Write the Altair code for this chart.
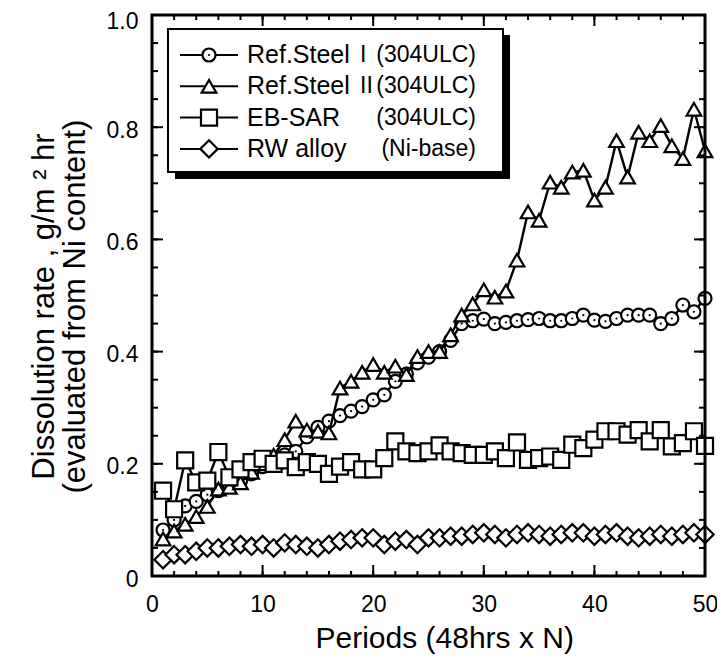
import altair as alt
import pandas as pd

# ---------------- data ----------------
periods = list(range(1, 51))

ref_steel_1 = [0.082, 0.100, 0.125, 0.133, 0.145, 0.152, 0.160, 0.170, 0.182, 0.195,
               0.205, 0.216, 0.222, 0.248, 0.265, 0.276, 0.286, 0.294, 0.302, 0.314,
               0.323, 0.347, 0.360, 0.380, 0.390, 0.400, 0.420, 0.450, 0.455, 0.458,
               0.450, 0.452, 0.455, 0.457, 0.459, 0.455, 0.455, 0.459, 0.465, 0.456,
               0.454, 0.459, 0.465, 0.465, 0.465, 0.450, 0.459, 0.483, 0.471, 0.495]

ref_steel_2 = [0.066, 0.080, 0.092, 0.106, 0.124, 0.155, 0.158, 0.166, 0.185, 0.200,
               0.215, 0.243, 0.276, 0.260, 0.258, 0.255, 0.335, 0.347, 0.363, 0.377,
               0.363, 0.374, 0.359, 0.391, 0.400, 0.400, 0.430, 0.465, 0.485, 0.510,
               0.497, 0.508, 0.563, 0.649, 0.634, 0.702, 0.693, 0.720, 0.723, 0.670,
               0.693, 0.776, 0.711, 0.791, 0.776, 0.803, 0.767, 0.744, 0.832, 0.758]

eb_sar = [0.152, 0.119, 0.206, 0.167, 0.170, 0.221, 0.176, 0.190, 0.203, 0.209,
          0.200, 0.206, 0.194, 0.203, 0.200, 0.182, 0.195, 0.203, 0.190, 0.190,
          0.210, 0.240, 0.222, 0.219, 0.222, 0.233, 0.222, 0.219, 0.216, 0.216,
          0.222, 0.210, 0.238, 0.207, 0.210, 0.213, 0.207, 0.234, 0.228, 0.243,
          0.258, 0.258, 0.252, 0.260, 0.240, 0.260, 0.231, 0.237, 0.258, 0.232]

rw_alloy = [0.029, 0.038, 0.038, 0.044, 0.050, 0.050, 0.053, 0.056, 0.053, 0.056,
            0.050, 0.059, 0.056, 0.053, 0.050, 0.056, 0.062, 0.065, 0.068, 0.068,
            0.056, 0.062, 0.065, 0.056, 0.068, 0.068, 0.071, 0.071, 0.074, 0.077,
            0.074, 0.068, 0.074, 0.077, 0.074, 0.071, 0.074, 0.077, 0.077, 0.071,
            0.074, 0.077, 0.071, 0.068, 0.071, 0.074, 0.071, 0.074, 0.077, 0.074]

series_keys = ["s1", "s2", "eb", "rw"]
legend_names = ["Ref.Steel", "Ref.Steel", "EB-SAR", "RW alloy"]
legend_numerals = ["I", "II", "", ""]
legend_materials = ["(304ULC)", "(304ULC)", "(304ULC)", "(Ni-base)"]

x_tick_labels = [0, 10, 20, 30, 40, 50]
x_minor_ticks = [0, 2, 4, 6, 8, 10, 12, 14, 16, 18, 20, 22, 24, 26, 28, 30,
                 32, 34, 36, 38, 40, 42, 44, 46, 48, 50]
y_tick_labels = [0, 0.2, 0.4, 0.6, 0.8, 1.0]
y_minor_ticks = [0, 0.05, 0.1, 0.15, 0.2, 0.25, 0.3, 0.35, 0.4, 0.45, 0.5,
                 0.55, 0.6, 0.65, 0.7, 0.75, 0.8, 0.85, 0.9, 0.95, 1.0]

# ---------------- build tables ----------------
values_by_key = {"s1": ref_steel_1, "s2": ref_steel_2, "eb": eb_sar, "rw": rw_alloy}
rows = []
for k in series_keys:
    for p, v in zip(periods, values_by_key[k]):
        rows.append({"series": k, "period": p, "rate": v})
df = pd.DataFrame(rows)

legend_df = pd.DataFrame({
    "series": series_keys,
    "row": list(range(len(series_keys))),
    "name": legend_names,
    "numeral": legend_numerals,
    "material": legend_materials,
})

# ---------------- styling ----------------
W, H = 553, 561
XMAX, YMAX = 50.0, 1.0
FONT = "Liberation Sans"
shape_scale = alt.Scale(domain=series_keys, range=["circle", "triangle-up", "square", "diamond"])
size_scale = alt.Scale(domain=series_keys, range=[170, 300, 150, 210])
x_scale = alt.Scale(domain=[0, XMAX], nice=False, zero=False)
y_scale = alt.Scale(domain=[0, YMAX], nice=False)

x_axis = alt.Axis(values=x_tick_labels, ticks=False, domain=False, grid=False, labelFlush=False,
                  labelFontSize=23, labelPadding=17, labelColor="black", labelFont=FONT,
                  title="Periods (48hrs x N)", titleFontSize=30, titleFontWeight="normal",
                  titleFont=FONT, titleColor="black", titleX=163, titleAlign="left",
                  titleY=71, titleBaseline="alphabetic")
y_axis = alt.Axis(values=y_tick_labels, ticks=False, domain=False, grid=False, labelFlush=False,
                  labelFontSize=23, labelPadding=14, labelColor="black", labelFont=FONT,
                  labelOffset={"condition": {"test": "datum.value >= 1", "value": 6}, "value": 3},
                  labelExpr="datum.value == 0 ? '0' : format(datum.value, '.1f')",
                  title=["Dissolution rate , g/m \u00b2 hr", "(evaluated from Ni content)"],
                  titleFontSize=31, titleFontWeight="normal", titleFont=FONT, titleColor="black",
                  titleAngle=270, titleX=-123, titleY=291, titleBaseline="top",
                  titleAlign="center", titleLineHeight=31)


def X(f):
    return alt.X(f, scale=x_scale, axis=x_axis)


def Y(f):
    return alt.Y(f, scale=y_scale, axis=y_axis)


base = alt.Chart(df)
layers = []

for key in ["rw", "s1", "s2", "eb"]:
    sub = base.transform_filter(alt.datum.series == key)
    layers.append(sub.mark_line(color="black", strokeWidth=2.4).encode(
        x=X("period:Q"), y=Y("rate:Q")))
    layers.append(sub.mark_point(filled=True, fill="white", stroke="black", strokeWidth=2.2,
                                 opacity=1).encode(
        x=X("period:Q"), y=Y("rate:Q"),
        shape=alt.Shape("series:N", scale=shape_scale, legend=None),
        size=alt.Size("series:N", scale=size_scale, legend=None),
    ))
    if key == "s1":
        layers.append(sub.mark_point(filled=True, color="black", size=5, shape="circle",
                                     opacity=1).encode(x=X("period:Q"), y=Y("rate:Q")))


# inward tick marks on all four sides (lengths converted from pixels to data units)
def xticks(vals, length):
    d = alt.Chart(pd.DataFrame({"period": vals}))
    ly = length / H * YMAX
    bottom = d.transform_calculate(ta="0", tb=str(ly)).mark_rule(
        color="black", strokeWidth=2).encode(x=X("period:Q"), y=Y("ta:Q"), y2="tb:Q")
    top = d.transform_calculate(ta=str(YMAX), tb=str(YMAX - ly)).mark_rule(
        color="black", strokeWidth=2).encode(x=X("period:Q"), y=Y("ta:Q"), y2="tb:Q")
    return [bottom, top]


def yticks(vals, length):
    d = alt.Chart(pd.DataFrame({"rate": vals}))
    lx = length / W * XMAX
    left = d.transform_calculate(ta="0", tb=str(lx)).mark_rule(
        color="black", strokeWidth=2).encode(y=Y("rate:Q"), x=X("ta:Q"), x2="tb:Q")
    right = d.transform_calculate(ta=str(XMAX), tb=str(XMAX - lx)).mark_rule(
        color="black", strokeWidth=2).encode(y=Y("rate:Q"), x=X("ta:Q"), x2="tb:Q")
    return [left, right]


layers += xticks(x_minor_ticks, 5) + xticks(x_tick_labels, 11)
layers += yticks(y_minor_ticks, 6) + yticks(y_tick_labels, 11)

# plot frame
frame = alt.Chart(pd.DataFrame({"a": [0]})).transform_calculate(
    fx0="0", fx1=str(XMAX), fy0="0", fy1=str(YMAX)).mark_rect(
    fillOpacity=0, stroke="black", strokeWidth=3).encode(
    x=X("fx0:Q"), x2="fx1:Q", y=Y("fy0:Q"), y2="fy1:Q")
layers.append(frame)

# legend box with drop shadow
one = alt.Chart(pd.DataFrame({"a": [0]}))
layers.append(one.mark_rect(fill="black").encode(
    x=alt.value(23), x2=alt.value(358), y=alt.value(20), y2=alt.value(164)))
layers.append(one.mark_rect(fill="white", stroke="black", strokeWidth=2).encode(
    x=alt.value(16), x2=alt.value(351), y=alt.value(14), y2=alt.value(157)))

leg = alt.Chart(legend_df).transform_calculate(ly="40 + 31.3 * datum.row")
ly = alt.Y("ly:Q", scale=None, axis=None)
layers.append(leg.mark_rule(color="black", strokeWidth=2).encode(
    x=alt.value(28), x2=alt.value(86), y=ly))
layers.append(leg.mark_point(filled=True, fill="white", stroke="black", strokeWidth=2.2,
                             opacity=1).encode(
    x=alt.value(57), y=ly,
    shape=alt.Shape("series:N", scale=shape_scale, legend=None),
    size=alt.Size("series:N", scale=size_scale, legend=None)))
layers.append(leg.transform_filter(alt.datum.series == "s1").mark_point(
    filled=True, color="black", size=5, shape="circle", opacity=1).encode(x=alt.value(57), y=ly))
txt = dict(baseline="middle", font=FONT, color="black")
layers.append(leg.mark_text(align="left", fontSize=25, **txt).encode(
    x=alt.value(95), y=ly, text="name:N"))
layers.append(leg.mark_text(align="left", fontSize=23, **txt).encode(
    x=alt.value(208), y=ly, text="numeral:N"))
layers.append(leg.mark_text(align="right", fontSize=23, **txt).encode(
    x=alt.value(324), y=ly, text="material:N"))

chart = alt.layer(*layers).properties(
    width=W, height=H,
    padding={"left": 144, "top": 7, "right": 12, "bottom": 80},
    autosize=alt.AutoSizeParams(type="none"),
    background="white",
).configure(font=FONT).configure_view(stroke=None)

chart.save("out.html", embed_options={"renderer": "svg", "actions": False})
